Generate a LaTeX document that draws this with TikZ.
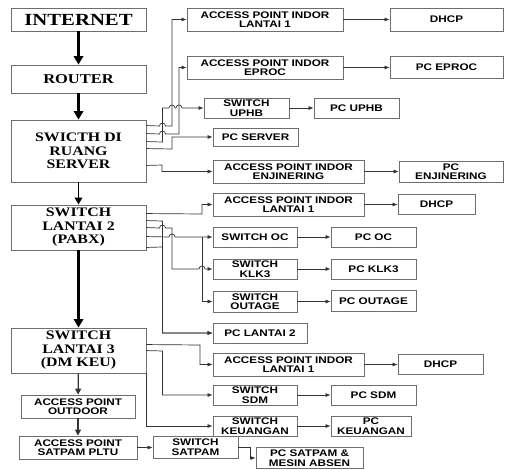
\documentclass[tikz,border=0pt]{standalone}
\usepackage{fontspec}
\usetikzlibrary{arrows.meta}
\newfontfamily\serb[FakeStretch=1.22]{Liberation Serif}
\newfontfamily\sanb[FakeStretch=1.22]{Liberation Sans}
\definecolor{boxline}{HTML}{6E6E6E}
\definecolor{wire}{HTML}{333333}
\tikzset{
  mainbox/.style={draw=boxline, line width=0.9pt, fill=white, inner sep=0pt,
    align=center, minimum width=135pt, font=\serb\bfseries\fontsize{13}{13.5}\selectfont},
  rbox/.style={draw=boxline, line width=0.8pt, fill=white, inner sep=0pt,
    align=center, font=\sanb\bfseries\fontsize{9.6}{9.6}\selectfont},
  conn/.style={draw=wire, line width=0.7pt, -{Latex[length=5pt,width=4pt]}},
  bigarrow/.style={draw=black, line width=2.6pt, -{Triangle[length=8.5pt,width=9.5pt]}},
  midarrow/.style={draw=black, line width=1.8pt, -{Triangle[length=7pt,width=7.5pt]}},
  smallarrow/.style={draw=wire, line width=1.2pt, -{Triangle[length=6pt,width=6pt]}},
}
\newcommand{\hop}{arc[start angle=180,end angle=0,radius=3pt]}
\begin{document}
\begin{tikzpicture}[x=1pt,y=-1pt]
\useasboundingbox (0,0) rectangle (505,470);

% main column
\node[mainbox, minimum height=23pt, font=\serb\bfseries\fontsize{17}{18}\selectfont] (inet) at (78.5,19.5) {INTERNET};
\node[mainbox, minimum height=28pt, font=\serb\bfseries\fontsize{13.5}{14}\selectfont] (router) at (78.5,79) {ROUTER};
\node[mainbox, minimum height=62pt] (srv) at (78.5,151) {SWICTH DI\\RUANG\\SERVER};
\node[mainbox, minimum height=45pt] (l2) at (78.5,227.5) {SWITCH\\LANTAI 2\\(PABX)};
\node[mainbox, minimum height=45pt] (l3) at (78.5,350.5) {SWITCH\\LANTAI 3\\(DM KEU)};
\node[rbox, minimum width=114pt, minimum height=23pt] (apout) at (78,406.5) {ACCESS POINT\\OUTDOOR};
\node[rbox, minimum width=118pt, minimum height=23pt] (pltu) at (78,447.5) {ACCESS POINT\\SATPAM PLTU};
\node[rbox, minimum width=85pt, minimum height=22pt] (swsat) at (195.5,447) {SWITCH\\SATPAM};
\node[rbox, minimum width=107pt, minimum height=21pt] (pcsat) at (309.5,458) {PC SATPAM \&\\MESIN ABSEN};

% branches of the server switch
\node[rbox, minimum width=156pt, minimum height=23pt] (apl1a) at (265,19.5) {ACCESS POINT INDOR\\LANTAI 1};
\node[rbox, minimum width=113pt, minimum height=23pt] (dhcpa) at (446.5,19.5) {DHCP};
\node[rbox, minimum width=156pt, minimum height=23pt] (apep) at (265,67.5) {ACCESS POINT INDOR\\EPROC};
\node[rbox, minimum width=113pt, minimum height=22pt] (pcep) at (446.5,67.5) {PC EPROC};
\node[rbox, minimum width=85pt, minimum height=20pt] (swup) at (246.5,108) {SWITCH\\UPHB};
\node[rbox, minimum width=85pt, minimum height=20pt] (pcup) at (356.5,108) {PC UPHB};
\node[rbox, minimum width=85pt, minimum height=18pt] (pcsrv) at (255.5,137) {PC SERVER};
\node[rbox, minimum width=151pt, minimum height=23pt] (apenj) at (288.5,171.5) {ACCESS POINT INDOR\\ENJINERING};
\node[rbox, minimum width=104pt, minimum height=21pt] (pcenj) at (451,171.5) {PC\\ENJINERING};

% branches of the second floor switch
\node[rbox, minimum width=151pt, minimum height=23pt] (apl1b) at (288.5,204.5) {ACCESS POINT INDOR\\LANTAI 1};
\node[rbox, minimum width=77pt, minimum height=20pt] (dhcpb) at (436.5,204) {DHCP};
\node[rbox, minimum width=84pt, minimum height=20pt] (swoc) at (255,237) {SWITCH OC};
\node[rbox, minimum width=85pt, minimum height=20pt] (pcoc) at (373.5,237) {PC OC};
\node[rbox, minimum width=84pt, minimum height=20pt] (swklk) at (255,269) {SWITCH\\KLK3};
\node[rbox, minimum width=85pt, minimum height=20pt] (pcklk) at (373.5,269) {PC KLK3};
\node[rbox, minimum width=84pt, minimum height=21pt] (swout) at (255,301.5) {SWITCH\\OUTAGE};
\node[rbox, minimum width=85pt, minimum height=21pt] (pcout) at (373.5,301) {PC OUTAGE};
\node[rbox, minimum width=94pt, minimum height=20pt] (pcl2) at (260,333) {PC LANTAI 2};

% branches of the third floor switch
\node[rbox, minimum width=151pt, minimum height=23pt] (apl1c) at (288.5,364.5) {ACCESS POINT INDOR\\LANTAI 1};
\node[rbox, minimum width=85pt, minimum height=20pt] (dhcpc) at (440.5,364) {DHCP};
\node[rbox, minimum width=84pt, minimum height=20pt] (swsdm) at (255,395) {SWITCH\\SDM};
\node[rbox, minimum width=85pt, minimum height=20pt] (pcsdm) at (373.5,395) {PC SDM};
\node[rbox, minimum width=84pt, minimum height=20pt] (swkeu) at (255,426) {SWITCH\\KEUANGAN};
\node[rbox, minimum width=80pt, minimum height=20pt] (pckeu) at (371,426) {PC\\KEUANGAN};

% trunk
\draw[bigarrow] (inet) -- (router);
\draw[bigarrow] (router) -- (srv);
\draw[midarrow] (srv) -- (l2);
\draw[bigarrow] (l2) -- (l3);
\draw[smallarrow] (l3) -- (apout);
\draw[smallarrow] (apout) -- (pltu);
\draw[conn] (pltu.east) -- (pltu.east -| swsat.west);
\draw[conn] (swsat.east) -- (250,447) |- (pcsat.west);

% server switch wiring
\draw[conn] ([yshift=-6pt]srv.north east) -- (159.5,126) \hop -- (172,126) |- (apl1a.west);
\draw[conn] ([yshift=-14pt]srv.north east) -- (159.5,134) \hop -- (179,134) |- (apep.west);
\draw[conn] ([yshift=-22pt]srv.north east) -- (162.5,142) -- (162.5,108) -- (169,108) \hop -- (176,108) \hop -- (swup.west);
\draw[conn] ([yshift=-29pt]srv.north east) -- (172,149) |- (pcsrv.west);
\draw[conn] ([yshift=17pt]srv.south east) -- (162,165) |- (apenj.west);

% second floor wiring
\draw[conn] ([yshift=-9pt]l2.north east) -- (202,214) |- (apl1b.west);
\draw[conn] ([yshift=-16pt]l2.north east) -- (162.5,221) |- (pcl2.west);
\draw[conn] ([yshift=3pt]l2.south east) -- (162.5,247) |- (pcl2.west);
\draw[conn] ([yshift=-23pt]l2.north east) -- (159.5,228) \hop -- (172,228) -- (172,269) -- (199,269) \hop -- (swklk.west);
\draw[conn] ([yshift=-32pt]l2.north east) -- (169,237) \hop -- (swoc.west);
\coordinate (ocbranch) at (202,237);
\draw[conn] (ocbranch) |- (swout.west);

% third floor wiring
\draw[conn] ([yshift=-17pt]l3.north east) -- (200,345) |- (apl1c.west);
\draw[conn] ([yshift=-23pt]l3.north east) -- (162.5,351) |- (swsdm.west);
\draw[conn] (l3.south east) |- (swkeu.west);

% leaf links
\draw[conn] (apl1a.east) -- (apl1a.east -| dhcpa.west);
\draw[conn] (apep.east) -- (apep.east -| pcep.west);
\draw[conn] (swup.east) -- (swup.east -| pcup.west);
\draw[conn] (apenj.east) -- (apenj.east -| pcenj.west);
\draw[conn] (apl1b.east) -- (apl1b.east -| dhcpb.west);
\draw[conn] (swoc.east) -- (swoc.east -| pcoc.west);
\draw[conn] (swklk.east) -- (swklk.east -| pcklk.west);
\draw[conn] (swout.east) -- (swout.east -| pcout.west);
\draw[conn] (apl1c.east) -- (apl1c.east -| dhcpc.west);
\draw[conn] (swsdm.east) -- (swsdm.east -| pcsdm.west);
\draw[conn] (swkeu.east) -- (swkeu.east -| pckeu.west);
\end{tikzpicture}
\end{document}
